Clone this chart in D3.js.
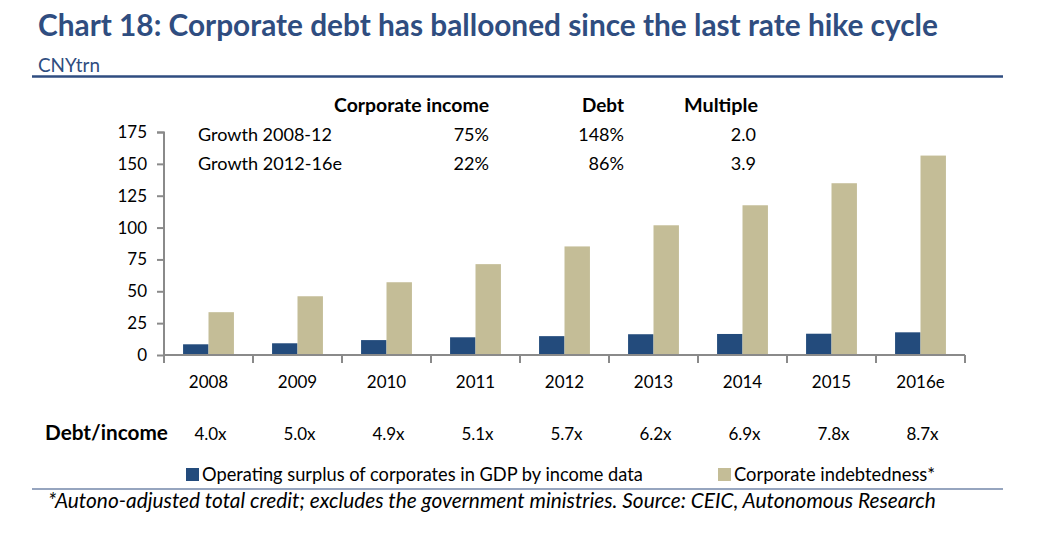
<!DOCTYPE html>
<html><head><meta charset="utf-8">
<script src="https://cdn.jsdelivr.net/npm/d3@7"></script>
<style>
body{margin:0;background:#fff;}
svg{display:block;font-family:Lato,"Open Sans",sans-serif;}
</style></head>
<body><svg id="c" width="1059" height="559"></svg>
<script>
const categories = ["2008","2009","2010","2011","2012","2013","2014","2015","2016e"];
const incomeValues = [8.4, 9.2, 11.7, 13.9, 14.8, 16.3, 16.5, 16.7, 17.8];
const debtValues = [33.6, 46.1, 57.1, 71.3, 85.2, 101.8, 117.5, 134.8, 156.5];
const debtIncomeLabels = ["4.0x","5.0x","4.9x","5.1x","5.7x","6.2x","6.9x","7.8x","8.7x"];
const yTicks = [0,25,50,75,100,125,150,175];
const tableHeaders = ["Corporate income","Debt","Multiple"];
const tableRows = [
  ["Growth 2008-12","75%","148%","2.0"],
  ["Growth 2012-16e","22%","86%","3.9"]
];
const seriesNames = ["Operating surplus of corporates in GDP by income data","Corporate indebtedness*"];
const colors = ["#234b7c","#c4bd97"];
const titleText = "Chart 18: Corporate debt has ballooned since the last rate hike cycle";
const navy = "#2f4d80";

const svg = d3.select("#c");

function fitText(sel, targetW){
  const w = sel.node().getComputedTextLength();
  const fs = parseFloat(sel.attr("font-size"));
  sel.attr("font-size", (fs*targetW/w).toFixed(2));
}

// Title
const t = svg.append("text").attr("x",38).attr("y",36).attr("font-size",26)
  .attr("font-weight","bold").attr("fill",navy).text(titleText);
fitText(t, 900);
const st = svg.append("text").attr("x",38).attr("y",72).attr("font-size",16)
  .attr("fill",navy).text("CNYtrn");
fitText(st, 62);
svg.append("line").attr("x1",32).attr("x2",1003).attr("y1",76.5).attr("y2",76.5)
  .attr("stroke",navy).attr("stroke-width",2.5);

// Scales
const x = d3.scaleBand().domain(categories).range([164,965]).paddingInner(0).paddingOuter(0);
const y = d3.scaleLinear().domain([0,175]).range([355,132]);
const bw = x.bandwidth()/3.5;

// Y axis
const yAxis = d3.axisLeft(y).tickValues(yTicks).tickSize(7).tickPadding(10);
const yg = svg.append("g").attr("transform","translate(164,0)").call(yAxis);
yg.select(".domain").attr("stroke","#8a8a8a").attr("stroke-width",2).attr("d","M-7,132.5H0V355");
yg.selectAll(".tick line").attr("stroke","#8a8a8a").attr("stroke-width",2);
yg.selectAll(".tick text").attr("font-size",17).attr("fill","#000").attr("font-family","Lato,sans-serif");

// Bars
const groups = svg.append("g").selectAll("g").data(categories).join("g")
  .attr("transform",d=>`translate(${x(d)+x.bandwidth()/2 - bw},0)`);
groups.append("rect").attr("x",0).attr("width",bw)
  .attr("y",(d,i)=>y(incomeValues[i])).attr("height",(d,i)=>y(0)-y(incomeValues[i]))
  .attr("fill",colors[0]);
groups.append("rect").attr("x",bw).attr("width",bw)
  .attr("y",(d,i)=>y(debtValues[i])).attr("height",(d,i)=>y(0)-y(debtValues[i]))
  .attr("fill",colors[1]);

// X axis
const xAxis = d3.axisBottom(x).tickSize(0).tickPadding(21);
const xg = svg.append("g").attr("transform","translate(0,355)").call(xAxis);
xg.select(".domain").attr("stroke","#8a8a8a").attr("stroke-width",2).attr("d","M164,0H965");
xg.selectAll(".tick text").attr("font-size",17).attr("fill","#000").attr("font-family","Lato,sans-serif");
const bounds = categories.map(c=>x(c)).concat([x.range()[1]]);
xg.selectAll("line.sep").data(bounds).join("line").attr("class","sep")
  .attr("x1",d=>d).attr("x2",d=>d).attr("y1",0).attr("y2",8)
  .attr("stroke","#8a8a8a").attr("stroke-width",2);

// Table
const hdrX = [489,624,758];
const hdrW = [155,42,74];
svg.selectAll("text.hdr").data(tableHeaders).join("text").attr("class","hdr")
  .attr("x",(d,i)=>hdrX[i]).attr("y",112).attr("text-anchor","end")
  .attr("font-size",17).attr("font-weight","bold").attr("fill","#000").text(d=>d)
  .each(function(d,i){ fitText(d3.select(this), hdrW[i]); });
const rowW = [134,144];
tableRows.forEach((row,r)=>{
  const yy = 141 + r*28.5;
  const lab = svg.append("text").attr("x",198).attr("y",yy).attr("font-size",17).attr("fill","#000").text(row[0]);
  fitText(lab, rowW[r]);
  const fs = lab.attr("font-size");
  row.slice(1).forEach((v,j)=>{
    svg.append("text").attr("x",hdrX[j]-(j===2?2:0)).attr("y",yy).attr("text-anchor","end")
      .attr("font-size",fs).attr("fill","#000").text(v);
  });
});

// Debt/income row
const di = svg.append("text").attr("x",45).attr("y",440).attr("font-size",18).attr("font-weight","bold")
  .attr("fill","#000").text("Debt/income");
fitText(di, 123);
svg.selectAll("text.di").data(debtIncomeLabels).join("text").attr("class","di")
  .attr("x",(d,i)=>x(categories[i])+x.bandwidth()/2 + 2).attr("y",440).attr("text-anchor","middle")
  .attr("font-size",17).attr("fill","#000").text(d=>d);

// Legend
const legX = [186,718];
const legW = [441,201];
seriesNames.forEach((n,i)=>{
  svg.append("rect").attr("x",legX[i]).attr("y",468).attr("width",13).attr("height",13).attr("fill",colors[i]);
  const lt = svg.append("text").attr("x",legX[i]+16).attr("y",481).attr("font-size",17).attr("fill","#000").text(n);
  fitText(lt, legW[i]);
});
svg.append("line").attr("x1",32).attr("x2",1003).attr("y1",489).attr("y2",489)
  .attr("stroke",navy).attr("stroke-width",1.2);

// Footnote
const fn = svg.append("text").attr("x",48).attr("y",508).attr("font-size",18).attr("font-style","italic")
  .attr("fill","#000").text("*Autono-adjusted total credit; excludes the government ministries. Source: CEIC, Autonomous Research");
fitText(fn, 888);
</script></body></html>
